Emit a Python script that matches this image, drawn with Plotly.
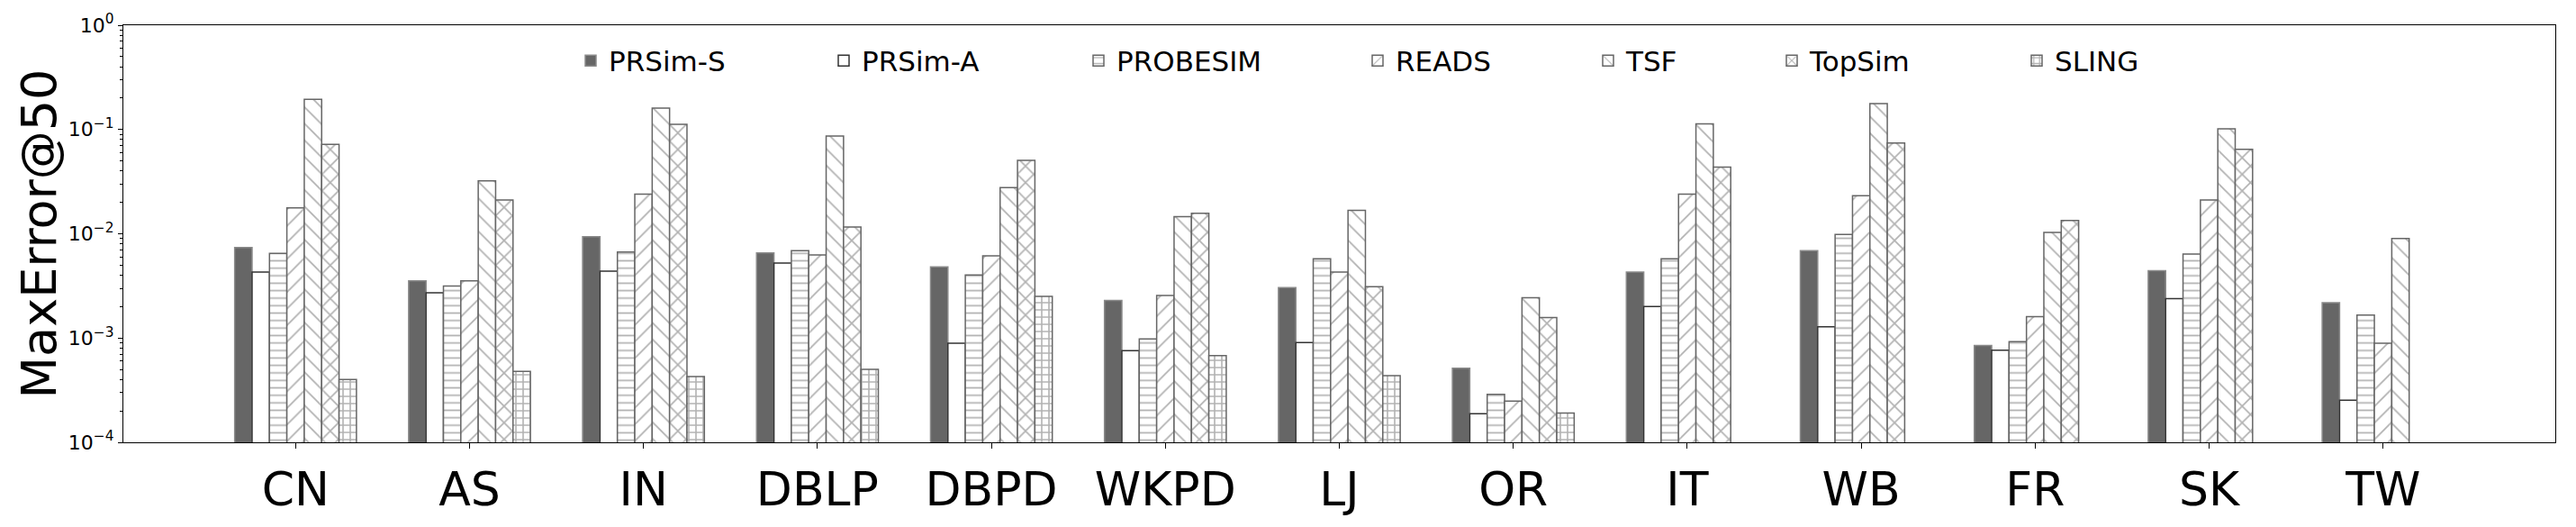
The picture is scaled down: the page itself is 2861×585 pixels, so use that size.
import plotly.graph_objects as go

datasets = ["CN", "AS", "IN", "DBLP", "DBPD", "WKPD", "LJ", "OR", "IT", "WB", "FR", "SK", "TW"]
methods = ["PRSim-S", "PRSim-A", "PROBESIM", "READS", "TSF", "TopSim", "SLING"]

prsim_s = [0.00737, 0.00354, 0.00937, 0.00656, 0.00481, 0.0023, 0.00305, 0.000513, 0.0043, 0.00687, 0.000847, 0.00443, 0.00218]
prsim_a = [0.0043, 0.00272, 0.00439, 0.00523, 0.00089, 0.000757, 0.000907, 0.000188, 0.00201, 0.00128, 0.000766, 0.00239, 0.000254]
probesim = [0.0065, 0.00315, 0.00669, 0.00687, 0.00403, 0.00098, 0.00576, 0.000288, 0.00576, 0.00987, 0.000923, 0.0064, 0.00166]
reads = [0.0177, 0.00354, 0.024, 0.00627, 0.00615, 0.00256, 0.0043, 0.000248, 0.024, 0.0232, 0.0016, 0.0211, 0.00089]
tsf = [0.195, 0.0321, 0.16, 0.0867, 0.0277, 0.01456, 0.0168, 0.00243, 0.113, 0.177, 0.0103, 0.1016, 0.009]
topsim = [0.072, 0.0211, 0.112, 0.0116, 0.0506, 0.01574, 0.00311, 0.00157, 0.0436, 0.0741, 0.0134, 0.0647, None]
sling = [0.0004, 0.00048, 0.000428, 0.0005, 0.00251, 0.000678, 0.000435, 0.000191, None, None, None, None, None]

series = [prsim_s, prsim_a, probesim, reads, tsf, topsim, sling]

ytick_vals = [1e-4, 1e-3, 1e-2, 1e-1, 1]
ytick_text = ["10<sup>\u22124</sup>", "10<sup>\u22123</sup>", "10<sup>\u22122</sup>", "10<sup>\u22121</sup>", "10<sup>0</sup>"]
minor_vals = [m * 10 ** e for e in range(-4, 0) for m in range(2, 10)]

W, H = 2861, 585
ML, MR, MT, MB = 137, 23, 24, 82
PW = W - ML - MR

HC = "#666666"
styles = [
    dict(color="#666666", line=dict(color="#8a8a8a", width=1.5)),
    dict(color="white", line=dict(color="#333333", width=1.5)),
    dict(color="white", line=dict(color=HC, width=1.5),
         pattern=dict(shape="-", size=8.3, solidity=0.21, fgcolor=HC, bgcolor="white", fillmode="overlay")),
    dict(color="white", line=dict(color=HC, width=1.5),
         pattern=dict(shape="/", size=13, solidity=0.14, fgcolor=HC, bgcolor="white", fillmode="overlay")),
    dict(color="white", line=dict(color=HC, width=1.5),
         pattern=dict(shape="\\", size=13, solidity=0.14, fgcolor=HC, bgcolor="white", fillmode="overlay")),
    dict(color="white", line=dict(color=HC, width=1.5),
         pattern=dict(shape="x", size=13, solidity=0.25, fgcolor=HC, bgcolor="white", fillmode="overlay")),
    dict(color="white", line=dict(color=HC, width=1.5),
         pattern=dict(shape="+", size=8, solidity=0.36, fgcolor=HC, bgcolor="white", fillmode="overlay")),
]

# legend text start positions (px) in reference
legend_text_x = [682, 963, 1246, 1556, 1812, 2016, 2288]

fig = go.Figure()
for i, (name, vals) in enumerate(zip(methods, series)):
    lg = "legend" if i == 0 else f"legend{i + 1}"
    fig.add_trace(go.Bar(x=datasets, y=vals, name=name, marker=styles[i], legend=lg))

font_family = "DejaVu Sans"
layout_legends = {}
for i in range(len(methods)):
    key = "legend" if i == 0 else f"legend{i + 1}"
    layout_legends[key] = dict(
        x=(legend_text_x[i] - 46 - ML) / PW, y=1 - (65 - MT) / (H - MT - MB),
        xanchor="left", yanchor="middle", orientation="h",
        font=dict(family=font_family, size=31, color="black"),
        bgcolor="rgba(0,0,0,0)", borderwidth=0, itemwidth=30,
    )

fig.update_layout(
    width=W, height=H,
    margin=dict(l=ML, r=MR, t=MT, b=MB, pad=0),
    paper_bgcolor="white", plot_bgcolor="white",
    barmode="group", bargap=0.3, bargroupgap=0,
    font=dict(family=font_family, color="black"),
    showlegend=True,
    **layout_legends,
)
fig.update_xaxes(
    type="category", range=[-0.99, 12.99],
    showline=True, linecolor="black", linewidth=1.3, mirror=True,
    ticks="outside", ticklen=6, tickwidth=1.2, tickcolor="black",
    tickfont=dict(family=font_family, size=52, color="black"),
    showgrid=False, zeroline=False,
)
fig.update_yaxes(
    type="log", range=[-4, 0],
    showline=True, linecolor="black", linewidth=1.3, mirror=True,
    tickmode="array", tickvals=ytick_vals, ticktext=ytick_text,
    ticks="outside", ticklen=5, tickwidth=1.2, tickcolor="black",
    tickfont=dict(family=font_family, size=22, color="black"),
    minor=dict(tickmode="array", tickvals=minor_vals, ticks="outside", ticklen=3, tickwidth=1, tickcolor="black", showgrid=False),
    showgrid=False, zeroline=False,
)
fig.add_annotation(
    text="MaxError@50", textangle=-90, xref="paper", yref="paper",
    x=(43 - ML) / PW, y=0.5, xanchor="center", yanchor="middle", showarrow=False,
    font=dict(family=font_family, size=54, color="black"),
)

fig.write_html("out.html")
